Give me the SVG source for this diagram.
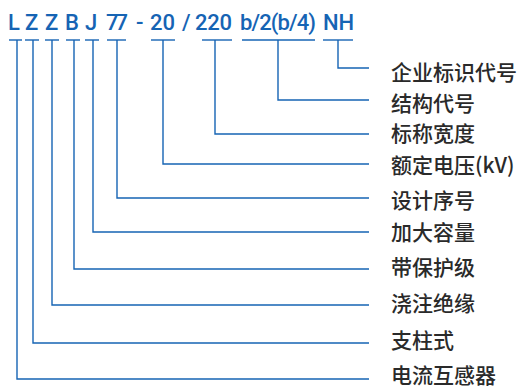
<svg xmlns="http://www.w3.org/2000/svg" width="527" height="388" viewBox="0 0 527 388">
<style>
.code{font-family:Roboto,"Liberation Sans",Arial,sans-serif;font-size:22px;font-weight:500;fill:#1664b4}
.lbl{font-family:"Noto Sans CJK SC","Noto Sans",sans-serif;font-size:21px;font-weight:500;fill:#2a2a2a}
.ul,.cn{stroke:#1664b4;stroke-width:1.4;fill:none}
</style>
<rect width="527" height="388" fill="#fff"/>
<g id="code">
<g id="c-L"><text class="code" x="8" y="30">L</text><line class="ul" x1="9" y1="40" x2="22" y2="40"/></g>
<g id="c-Z1"><text class="code" x="25" y="30">Z</text><line class="ul" x1="25" y1="40" x2="39" y2="40"/></g>
<g id="c-Z2"><text class="code" x="45" y="30">Z</text><line class="ul" x1="45" y1="40" x2="59" y2="40"/></g>
<g id="c-B"><text class="code" x="65" y="30">B</text><line class="ul" x1="66" y1="40" x2="80" y2="40"/></g>
<g id="c-J"><text class="code" x="85" y="30">J</text><line class="ul" x1="85" y1="40" x2="99" y2="40"/></g>
<g id="c-77"><text class="code" x="106" y="30" textLength="22">77</text><line class="ul" x1="107" y1="40" x2="126" y2="40"/></g>
<g id="c-dash"><text class="code" x="136" y="30">-</text></g>
<g id="c-20"><text class="code" x="150" y="30" textLength="25">20</text><line class="ul" x1="151" y1="40" x2="175" y2="40"/></g>
<g id="c-slash"><text class="code" x="182" y="30">/</text></g>
<g id="c-220"><text class="code" x="195" y="30" textLength="37">220</text><line class="ul" x1="202" y1="40" x2="232" y2="40"/></g>
<g id="c-b2"><text class="code" x="240" y="30" textLength="76">b/2(b/4)</text><line class="ul" x1="242" y1="40" x2="315" y2="40"/></g>
<g id="c-NH"><text class="code" x="323" y="30" textLength="31">NH</text><line class="ul" x1="323" y1="40" x2="353" y2="40"/></g>
</g>
<g id="connectors">
<path class="cn" d="M338 40V68H369"/>
<path class="cn" d="M278 40V100H369"/>
<path class="cn" d="M215 40V134H369"/>
<path class="cn" d="M163 40V164H369"/>
<path class="cn" d="M117 40V198H369"/>
<path class="cn" d="M93 40V232H369"/>
<path class="cn" d="M74 40V269H369"/>
<path class="cn" d="M52 40V305H369"/>
<path class="cn" d="M33 40V343H369"/>
<path class="cn" d="M17 40V379H369"/>
</g>
<g id="labels">
<g id="l1"><text class="lbl" x="391" y="80">企业标识代号</text></g>
<g id="l2"><text class="lbl" x="391" y="111">结构代号</text></g>
<g id="l3"><text class="lbl" x="391" y="141">标称宽度</text></g>
<g id="l4"><text class="lbl" x="391" y="173">额定电压(kV)</text></g>
<g id="l5"><text class="lbl" x="391" y="208">设计序号</text></g>
<g id="l6"><text class="lbl" x="391" y="240">加大容量</text></g>
<g id="l7"><text class="lbl" x="391" y="275">带保护级</text></g>
<g id="l8"><text class="lbl" x="391" y="311">浇注绝缘</text></g>
<g id="l9"><text class="lbl" x="391" y="348">支柱式</text></g>
<g id="l10"><text class="lbl" x="391" y="383">电流互感器</text></g>
</g>
</svg>
